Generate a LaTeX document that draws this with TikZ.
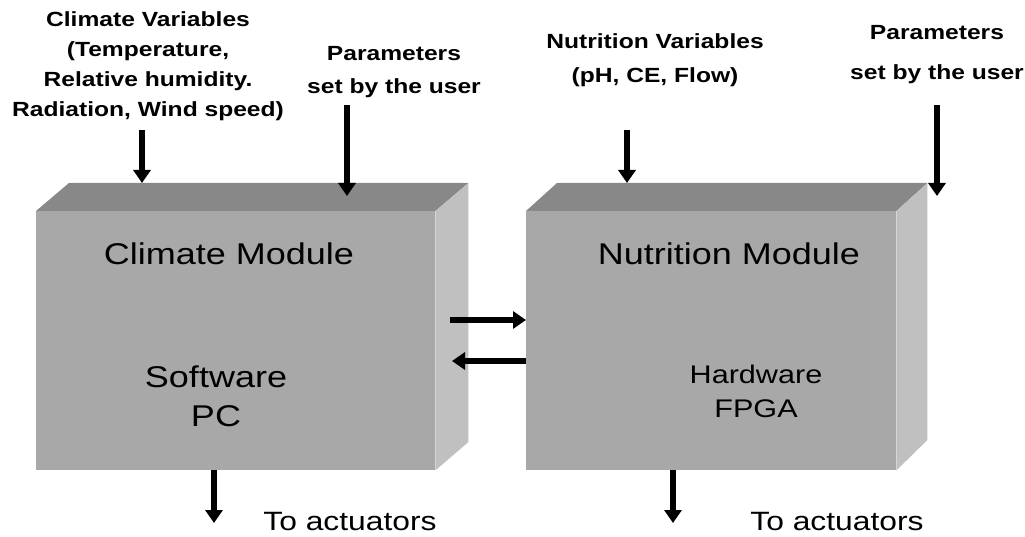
\documentclass[tikz,border=0pt]{standalone}
\usepackage{fontspec}
\setmainfont{Liberation Sans}
\newfontfamily\lab[FakeStretch=1.2]{Liberation Sans}
\usetikzlibrary{arrows.meta,calc}
\definecolor{frontc}{HTML}{A8A8A8}
\definecolor{topc}{HTML}{888888}
\definecolor{sidec}{HTML}{C0C0C0}
\tikzset{
  frontface/.style={fill=frontc, draw=none, inner sep=0pt, anchor=north west},
  flow/.style={line width=5.5pt, -{Triangle[width=17pt,length=13pt]}},
  toplabel/.style={inner sep=0pt, align=center, font=\lab\bfseries\fontsize{20.5}{30}\selectfont},
  boxlabel/.style={inner sep=0pt, align=center, font=\lab\fontsize{30}{39}\selectfont},
  hwlabel/.style={inner sep=0pt, align=center, font=\lab\fontsize{25.5}{34}\selectfont},
  actlabel/.style={inner sep=0pt, font=\lab\fontsize{26.5}{30}\selectfont}
}
\begin{document}
\begin{tikzpicture}[x=1pt,y=-1pt]
\useasboundingbox (0,0) rectangle (1025,537);
% ---- left box (Climate) ----
\node[frontface, minimum width=399pt, minimum height=259pt] (climate) at (36,211) {};
\fill[topc] (climate.north west) -- ++(33,-28) -- ($(climate.north east)+(33,-28)$) -- (climate.north east) -- cycle;
\fill[sidec] (climate.north east) -- ++(33,-28) -- ++(0,259) -- (climate.south east) -- cycle;
% ---- right box (Nutrition) ----
\node[frontface, minimum width=370pt, minimum height=259pt] (nutrition) at (526,211) {};
\fill[topc] (nutrition.north west) -- ++(31,-28) -- ($(nutrition.north east)+(31,-28)$) -- (nutrition.north east) -- cycle;
\fill[sidec] (nutrition.north east) -- ++(31,-28) -- ++(0,257) -- (nutrition.south east) -- cycle;
% ---- box labels ----
\node[boxlabel] (cmod) at (229,254) {Climate Module};
\node[boxlabel] (swpc) at (216,396) {Software\\PC};
\node[boxlabel] (nmod) at (729,254) {Nutrition Module};
\node[hwlabel] (hwfp) at (756,391) {Hardware\\FPGA};
% ---- top labels ----
\node[toplabel] (cvars) at (148,66) {Climate Variables\\(Temperature,\\Relative humidity.\\Radiation, Wind speed)};
\node[toplabel] (par1) at (394,72) {Parameters\\[3pt]set by the user};
\node[toplabel] (nvars) at (655,60) {Nutrition Variables\\[4pt](pH, CE, Flow)};
\node[toplabel] (par2) at (937,55) {Parameters\\[10pt]set by the user};
% ---- bottom labels ----
\node[actlabel] (act1) at (350,522) {To actuators};
\node[actlabel] (act2) at (837,522) {To actuators};
% ---- arrow end points ----
\coordinate (cvA) at (142,130); \coordinate (cvB) at (142,183);
\coordinate (p1A) at (347,105); \coordinate (p1B) at (347,196);
\coordinate (nvA) at (627,130); \coordinate (nvB) at (627,183);
\coordinate (p2A) at (937,105); \coordinate (p2B) at (937,196);
\coordinate (hA) at (450,320);
\coordinate (hB) at (452,361);
\coordinate (a1) at (214,523);
\coordinate (a2) at (673,523);
% ---- arrows ----
\draw[flow] (cvA) -- (cvB);
\draw[flow] (p1A) -- (p1B);
\draw[flow] (nvA) -- (nvB);
\draw[flow] (p2A) -- (p2B);
\draw[flow] (hA) -- (hA -| nutrition.west);
\draw[flow] (hB -| nutrition.west) -- (hB);
\draw[flow] (climate.south west -| a1) -- (a1);
\draw[flow] (nutrition.south west -| a2) -- (a2);
\end{tikzpicture}
\end{document}
